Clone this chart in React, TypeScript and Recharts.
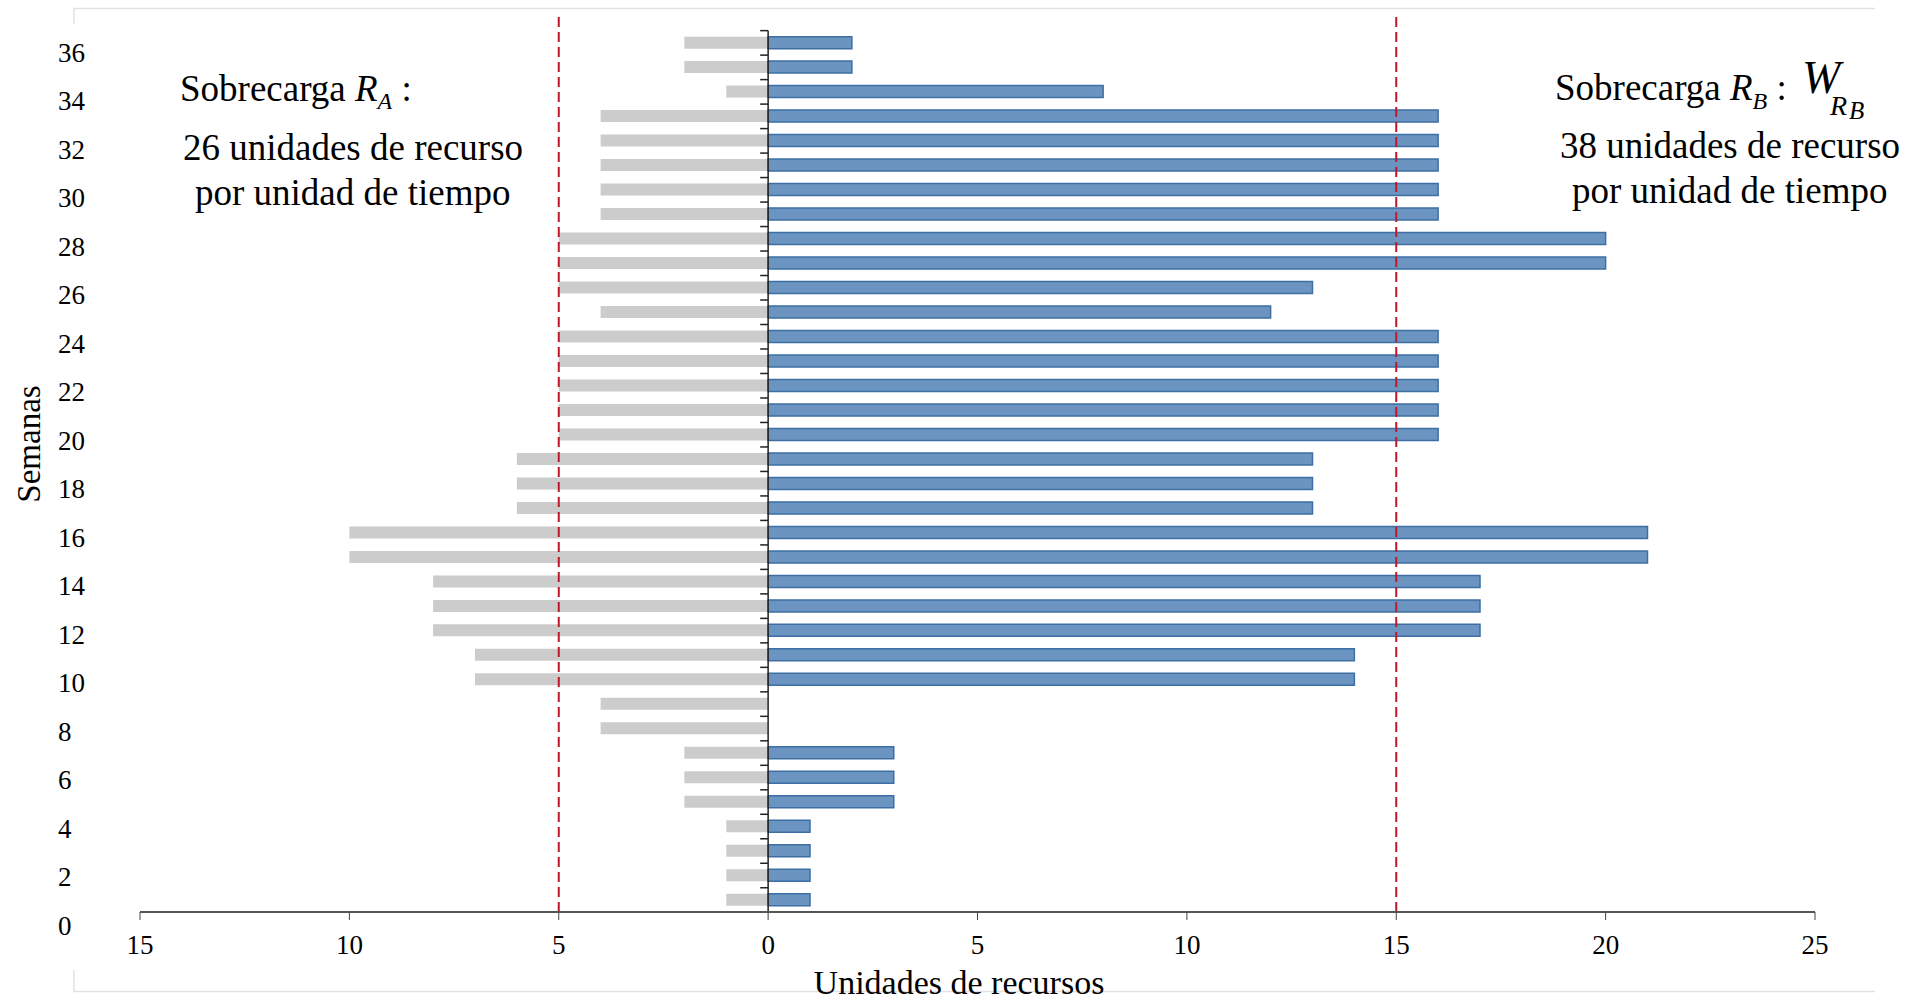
import { BarChart, Bar, XAxis, YAxis, ReferenceLine } from "recharts";

// semanas 1..36
const semanas = [
  1, 2, 3, 4, 5, 6, 7, 8, 9, 10, 11, 12, 13, 14, 15, 16, 17, 18, 19, 20, 21, 22,
  23, 24, 25, 26, 27, 28, 29, 30, 31, 32, 33, 34, 35, 36,
];
// recurso A (se dibuja hacia la izquierda)
const recursoA = [
  1, 1, 1, 1, 2, 2, 2, 4, 4, 7, 7, 8, 8, 8, 10, 10, 6, 6, 6, 5, 5, 5, 5, 5, 4,
  5, 5, 5, 4, 4, 4, 4, 4, 1, 2, 2,
];
// recurso B (hacia la derecha)
const recursoB = [
  1, 1, 1, 1, 3, 3, 3, 0, 0, 14, 14, 17, 17, 17, 21, 21, 13, 13, 13, 16, 16, 16,
  16, 16, 12, 13, 20, 20, 16, 16, 16, 16, 16, 8, 2, 2,
];
const xTicks = [-15, -10, -5, 0, 5, 10, 15, 20, 25];
const yTicks = [0, 2, 4, 6, 8, 10, 12, 14, 16, 18, 20, 22, 24, 26, 28, 30, 32, 34, 36];
const limites = [-5, 15];

const data = semanas.map((s, i) => ({
  semana: s,
  a: -recursoA[i],
  b: recursoB[i],
}));

const FONT = '"Liberation Serif", "Times New Roman", serif';

const YTick = (props: any) => {
  const { y, payload } = props;
  return (
    <text x={58} y={y} dy="0.35em" fontSize={27} fontFamily={FONT} fill="#000" textAnchor="start">
      {payload.value}
    </text>
  );
};

export default function App() {
  return (
    <div
      style={{
        position: "absolute",
        left: 0,
        top: 0,
        width: 1923,
        height: 996,
        background: "#fff",
        fontFamily: FONT,
      }}
    >
      <BarChart
        width={1923}
        height={996}
        layout="vertical"
        data={data}
        stackOffset="sign"
        barSize={12}
        margin={{ top: 13, right: 108, left: 0, bottom: 0 }}
      >
        <XAxis
          type="number"
          domain={[-15, 25]}
          ticks={xTicks}
          interval={0}
          allowDataOverflow
          tickFormatter={(v) => String(Math.abs(v))}
          height={84}
          axisLine={{ stroke: "#555", strokeWidth: 2 }}
          tickLine={{ stroke: "#444" }}
          tickSize={8}
          tickMargin={15}
          tick={{ fill: "#000", fontSize: 27, fontFamily: FONT }}
        />
        <YAxis
          yAxisId="semanas"
          type="number"
          dataKey="semana"
          domain={[0.51, 37.22]}
          allowDataOverflow
          reversed
          hide
        />
        <YAxis
          yAxisId="etiquetas"
          type="number"
          dataKey="semana"
          domain={[0.556, 37.61]}
          allowDataOverflow
          reversed
          ticks={yTicks}
          interval={0}
          width={140}
          axisLine={false}
          tickLine={false}
          tick={YTick}
        />
        <Bar
          yAxisId="semanas"
          dataKey="a"
          stackId="s"
          fill="#cccccc"
          isAnimationActive={false}
        />
        <Bar
          yAxisId="semanas"
          dataKey="b"
          stackId="s"
          fill="#6b95c0"
          stroke="#3d6fa5"
          strokeWidth={1.5}
          isAnimationActive={false}
        />
        <ReferenceLine
          yAxisId="semanas"
          segment={[
            { x: 0, y: 0.51 },
            { x: 0, y: 36.5 },
          ]}
          stroke="#222"
          strokeWidth={1.5}
        />
        {semanas.map((s) => (
          <ReferenceLine
            key={"t" + s}
            yAxisId="semanas"
            segment={[
              { x: -0.19, y: s + 0.5 },
              { x: 0, y: s + 0.5 },
            ]}
            stroke="#222"
            strokeWidth={1.5}
          />
        ))}
        {limites.map((v) => (
          <ReferenceLine
            key={"l" + v}
            yAxisId="semanas"
            x={v}
            stroke="#c0162c"
            strokeWidth={2}
            strokeDasharray="10 5"
          />
        ))}
      </BarChart>
      <svg
        width={1923}
        height={996}
        style={{ position: "absolute", left: 0, top: 0, pointerEvents: "none" }}
        fontFamily={FONT}
      >
        <line x1={74} y1={8.5} x2={1875} y2={8.5} stroke="#e2e2e2" strokeWidth={1.5} />
        <line x1={74} y1={8} x2={74} y2={24} stroke="#e2e2e2" strokeWidth={1.5} />
        <line x1={74} y1={991.5} x2={1875} y2={991.5} stroke="#e2e2e2" strokeWidth={1.5} />
        <line x1={74} y1={970} x2={74} y2={992} stroke="#e2e2e2" strokeWidth={1.5} />

        <text x={180} y={101} fontSize={37} fill="#000">
          Sobrecarga{" "}
          <tspan fontStyle="italic">R</tspan>
          <tspan fontStyle="italic" fontSize={24} dy={8}>A</tspan>
          <tspan dy={-8}> :</tspan>
        </text>
        <text x={183} y={160} fontSize={37} fill="#000">
          26 unidades de recurso
        </text>
        <text x={195} y={205} fontSize={37} fill="#000">
          por unidad de tiempo
        </text>

        <text x={1555} y={100} fontSize={37} fill="#000">
          Sobrecarga{" "}
          <tspan fontStyle="italic">R</tspan>
          <tspan fontStyle="italic" fontSize={24} dy={9}>B</tspan>
          <tspan dy={-9}> :</tspan>
        </text>
        <text x={1802} y={93} fontSize={46} fontStyle="italic" fill="#000">
          W
        </text>
        <text x={1830} y={115} fontSize={28} fontStyle="italic" fill="#000">
          R
        </text>
        <text x={1849} y={119} fontSize={25} fontStyle="italic" fill="#000">
          B
        </text>
        <text x={1560} y={158} fontSize={37} fill="#000">
          38 unidades de recurso
        </text>
        <text x={1572} y={203} fontSize={37} fill="#000">
          por unidad de tiempo
        </text>

        <text
          x={40}
          y={444}
          fontSize={33}
          fill="#000"
          textAnchor="middle"
          transform="rotate(-90, 40, 444)"
        >
          Semanas
        </text>
        <text x={959} y={994} fontSize={34} fill="#000" textAnchor="middle">
          Unidades de recursos
        </text>
      </svg>
    </div>
  );
}
